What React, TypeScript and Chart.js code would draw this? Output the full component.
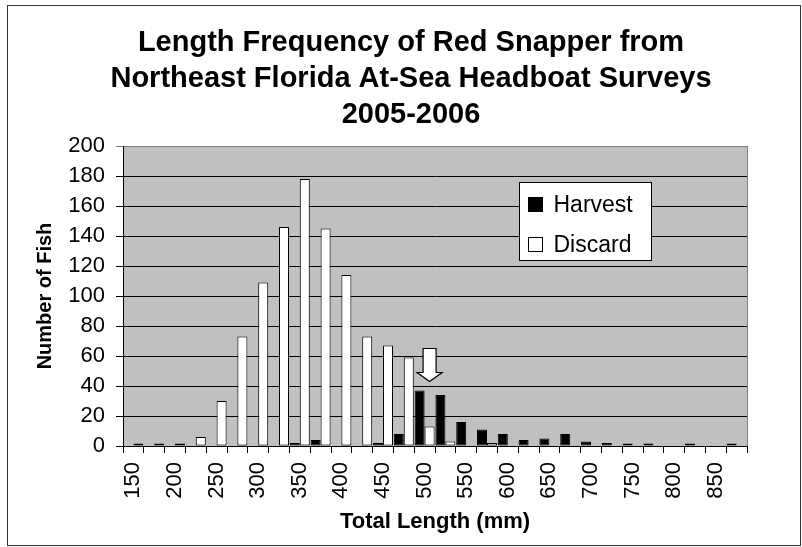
import React, { useEffect, useRef } from 'react';
import { Chart, registerables } from 'chart.js';

Chart.register(...registerables);

const TITLE_LINES = [
  'Length Frequency of Red Snapper from',
  'Northeast Florida At-Sea Headboat Surveys',
  '2005-2006',
];
const X_TITLE = 'Total Length (mm)';
const Y_TITLE = 'Number of Fish';

const CATEGORIES = [
  '150', '175', '200', '225', '250', '275', '300', '325', '350', '375',
  '400', '425', '450', '475', '500', '525', '550', '575', '600', '625',
  '650', '675', '700', '725', '750', '775', '800', '825', '850', '875',
];

const HARVEST = [
  0, 0, 0, 0, 0, 0, 0, 0, 2, 4,
  0, 0, 2, 8, 37, 34, 16, 11, 8, 4,
  5, 8, 3, 2, 1, 1, 0, 1, 0, 1,
];

const DISCARD = [
  1, 1, 1, 6, 30, 73, 109, 146, 178, 145,
  114, 73, 67, 59, 13, 3, 0, 2, 0, 0,
  0, 0, 0, 0, 0, 0, 0, 0, 0, 0,
];

const SERIES_NAMES = ['Harvest', 'Discard'];
const SERIES_COLORS = ['#000000', '#ffffff'];

const Y_MIN = 0;
const Y_MAX = 200;
const Y_STEP = 20;

// arrow annotation marking the minimum size limit
const ARROW_CATEGORY = '500';
const ARROW_TOP = 65;
const ARROW_NECK = 49;
const ARROW_TIP = 43;

const FONT = '"Liberation Sans", Arial, Helvetica, sans-serif';

const framePlugin = {
  id: 'frame',
  beforeDraw(chart: any) {
    const { ctx, chartArea, width, height } = chart;
    ctx.save();
    ctx.fillStyle = '#ffffff';
    ctx.fillRect(0, 0, width, height);
    ctx.strokeStyle = '#333333';
    ctx.lineWidth = 1;
    ctx.strokeRect(7.5, 5.5, 793, 540);
    ctx.fillStyle = '#c0c0c0';
    ctx.fillRect(chartArea.left, chartArea.top, chartArea.right - chartArea.left, chartArea.bottom - chartArea.top);
    ctx.restore();
  },
  afterDraw(chart: any) {
    const { ctx, chartArea } = chart;
    const xs = chart.scales.x;
    const ys = chart.scales.y;
    ctx.save();
    // right border of plot area
    ctx.strokeStyle = '#808080';
    ctx.lineWidth = 1;
    ctx.beginPath();
    ctx.moveTo(Math.round(chartArea.right) + 0.5, chartArea.top);
    ctx.lineTo(Math.round(chartArea.right) + 0.5, chartArea.bottom);
    ctx.stroke();

    // arrow
    const idx = CATEGORIES.indexOf(ARROW_CATEGORY);
    const cat = xs.width / CATEGORIES.length;
    const cx = xs.getPixelForValue(idx) + cat * 0.24;
    const yTop = ys.getPixelForValue(ARROW_TOP);
    const yNeck = ys.getPixelForValue(ARROW_NECK);
    const yTip = ys.getPixelForValue(ARROW_TIP);
    const sw = 6.5;
    const hw = 12.5;
    ctx.beginPath();
    ctx.moveTo(cx - sw, yTop);
    ctx.lineTo(cx + sw, yTop);
    ctx.lineTo(cx + sw, yNeck);
    ctx.lineTo(cx + hw, yNeck);
    ctx.lineTo(cx, yTip);
    ctx.lineTo(cx - hw, yNeck);
    ctx.lineTo(cx - sw, yNeck);
    ctx.closePath();
    ctx.fillStyle = '#ffffff';
    ctx.fill();
    ctx.strokeStyle = '#000000';
    ctx.lineWidth = 1.2;
    ctx.stroke();

    // legend
    const bx = Math.round(chartArea.right) - 228 + 0.5;
    const by = Math.round(chartArea.top) + 36 + 0.5;
    const bw = 132;
    const bh = 78;
    ctx.fillStyle = '#ffffff';
    ctx.fillRect(bx, by, bw, bh);
    ctx.strokeStyle = '#000000';
    ctx.lineWidth = 1;
    ctx.strokeRect(bx, by, bw, bh);
    const rows = [22, 62];
    chart.data.datasets.forEach((ds: any, i: number) => {
      const cy = by + rows[i];
      ctx.fillStyle = SERIES_COLORS[i];
      ctx.fillRect(bx + 9, cy - 7, 14, 14);
      ctx.strokeStyle = '#000000';
      ctx.strokeRect(bx + 9, cy - 7, 14, 14);
      ctx.fillStyle = '#000000';
      ctx.font = `23px ${FONT}`;
      ctx.textBaseline = 'middle';
      ctx.textAlign = 'left';
      ctx.fillText(ds.label, bx + 34, cy + 1);
    });
    ctx.restore();
  },
};

export default function App() {
  const ref = useRef<HTMLCanvasElement | null>(null);

  useEffect(() => {
    if (!ref.current) return;
    Chart.defaults.font.family = FONT;
    Chart.defaults.color = '#000000';
    const makeDataset = (i: number, data: number[]) => ({
      label: SERIES_NAMES[i],
      data,
      backgroundColor: (c: any) => (c.raw ? SERIES_COLORS[i] : 'rgba(0,0,0,0)'),
      borderColor: '#000000',
      borderWidth: (c: any) => (c.raw ? 1 : 0),
      borderSkipped: false,
      minBarLength: 2.5,
      categoryPercentage: 0.96,
      barPercentage: 1,
    });
    const chart = new Chart(ref.current, {
      type: 'bar',
      data: {
        labels: CATEGORIES,
        datasets: [makeDataset(0, HARVEST), makeDataset(1, DISCARD)],
      },
      options: {
        responsive: false,
        animation: false,
        events: [],
        layout: { padding: { left: 20, right: 0, top: 0, bottom: 0 } },
        plugins: {
          legend: { display: false },
          tooltip: { enabled: false },
          title: {
            display: true,
            text: TITLE_LINES,
            color: '#000000',
            font: { size: 29, weight: 'bold', family: FONT, lineHeight: 36 / 29 },
            padding: { top: 24.5, bottom: 13.5 },
          },
        },
        scales: {
          x: {
            grid: {
              drawOnChartArea: false,
              drawTicks: true,
              tickLength: 7,
              color: '#000000',
            },
            border: { display: true, color: '#000000', width: 1 },
            ticks: {
              autoSkip: false,
              minRotation: 90,
              maxRotation: 90,
              padding: 9,
              color: '#000000',
              font: { size: 22, family: FONT },
              callback: (_v: any, i: number) => (i % 2 === 0 ? CATEGORIES[i] : ''),
            },
            title: {
              display: true,
              text: X_TITLE,
              color: '#000000',
              font: { size: 22, weight: 'bold', family: FONT },
              padding: { top: 0, bottom: 12 },
            },
            afterFit: (s: any) => {
              s.height = 101;
            },
          },
          y: {
            min: Y_MIN,
            max: Y_MAX,
            grid: {
              color: (c: any) => (c.tick && c.tick.value === Y_MAX ? '#808080' : '#000000'),
              tickLength: 7,
              lineWidth: 1,
            },
            border: { display: true, color: '#000000', width: 1 },
            ticks: {
              stepSize: Y_STEP,
              padding: 11,
              color: '#000000',
              font: { size: 22, family: FONT },
            },
            title: {
              display: true,
              text: Y_TITLE,
              color: '#000000',
              font: { size: 20, weight: 'bold', family: FONT },
              padding: { top: 13, bottom: 0 },
            },
            afterFit: (s: any) => {
              s.width = 103;
            },
          },
          y2: {
            position: 'right',
            display: true,
            grid: { display: false },
            border: { display: false },
            ticks: { display: false },
            afterFit: (s: any) => {
              s.width = 55;
            },
          },
        },
      } as any,
      plugins: [framePlugin],
    });
    return () => chart.destroy();
  }, []);

  return (
    <div style={{ position: 'absolute', left: 0, top: 0, width: 802, height: 547 }}>
      <canvas ref={ref} width={802} height={547} />
    </div>
  );
}
